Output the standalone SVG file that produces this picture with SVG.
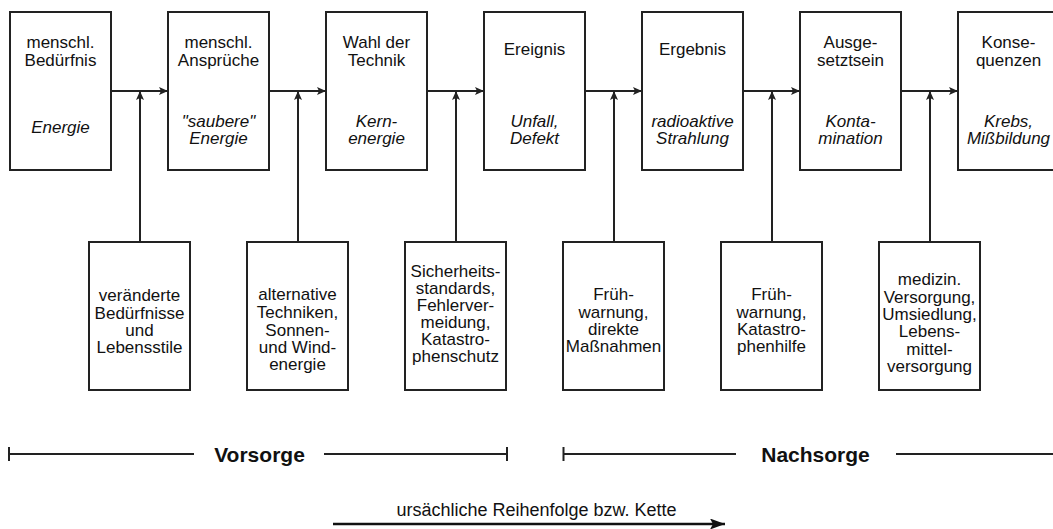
<svg xmlns="http://www.w3.org/2000/svg" width="1053" height="529" viewBox="0 0 1053 529">
<defs>
<style>
.box{fill:#fff;stroke:#222;stroke-width:2}
.t{font-family:"Liberation Sans",Arial,sans-serif;font-size:17px;fill:#111;text-anchor:middle}
.i{font-style:italic}
.b{font-family:"Liberation Sans",Arial,sans-serif;font-size:21px;font-weight:bold;fill:#111;text-anchor:middle}
.cap{font-size:18px}
.c{stroke:#222;stroke-width:2;fill:none}
</style>
<marker id="ah" markerUnits="userSpaceOnUse" markerWidth="10" markerHeight="9" refX="9" refY="4" orient="auto">
<path d="M0,0 L9,4 L0,8 L2,4 Z" fill="#222"/>
</marker>
<marker id="ah2" markerUnits="userSpaceOnUse" markerWidth="16" markerHeight="12" refX="15" refY="5.5" orient="auto">
<path d="M0,0 L15,5.5 L0,11 L3,5.5 Z" fill="#111"/>
</marker>
</defs>
<rect width="1053" height="529" fill="#fff"/>

<g id="connectors">
<path class="c" d="M111,91 H168" marker-end="url(#ah)"/>
<path class="c" d="M269,91 H326" marker-end="url(#ah)"/>
<path class="c" d="M427,91 H484" marker-end="url(#ah)"/>
<path class="c" d="M585,91 H642" marker-end="url(#ah)"/>
<path class="c" d="M743,91 H800" marker-end="url(#ah)"/>
<path class="c" d="M901,91 H958" marker-end="url(#ah)"/>
<path class="c" d="M140,242 V91" marker-end="url(#ah)"/>
<path class="c" d="M298,242 V91" marker-end="url(#ah)"/>
<path class="c" d="M456,242 V91" marker-end="url(#ah)"/>
<path class="c" d="M614,242 V91" marker-end="url(#ah)"/>
<path class="c" d="M772,242 V91" marker-end="url(#ah)"/>
<path class="c" d="M930,242 V91" marker-end="url(#ah)"/>
</g>

<g id="n1"><rect class="box" x="10" y="12" width="101" height="158"/>
<text class="t" x="60.5" y="48">menschl.</text><text class="t" x="60.5" y="66">Bedürfnis</text>
<text class="t i" x="60.5" y="133">Energie</text></g>
<g id="n2"><rect class="box" x="168" y="12" width="101" height="158"/>
<text class="t" x="218.5" y="48">menschl.</text><text class="t" x="218.5" y="66">Ansprüche</text>
<text class="t i" x="218.5" y="127">"saubere"</text><text class="t i" x="218.5" y="144">Energie</text></g>
<g id="n3"><rect class="box" x="326" y="12" width="101" height="158"/>
<text class="t" x="376.5" y="48">Wahl der</text><text class="t" x="376.5" y="66">Technik</text>
<text class="t i" x="376.5" y="127">Kern-</text><text class="t i" x="376.5" y="144">energie</text></g>
<g id="n4"><rect class="box" x="484" y="12" width="101" height="158"/>
<text class="t" x="534.5" y="55">Ereignis</text>
<text class="t i" x="534.5" y="127">Unfall,</text><text class="t i" x="534.5" y="144">Defekt</text></g>
<g id="n5"><rect class="box" x="642" y="12" width="101" height="158"/>
<text class="t" x="692.5" y="55">Ergebnis</text>
<text class="t i" x="692.5" y="127">radioaktive</text><text class="t i" x="692.5" y="144">Strahlung</text></g>
<g id="n6"><rect class="box" x="800" y="12" width="101" height="158"/>
<text class="t" x="850.5" y="48">Ausge-</text><text class="t" x="850.5" y="66">setztsein</text>
<text class="t i" x="850.5" y="127">Konta-</text><text class="t i" x="850.5" y="144">mination</text></g>
<g id="n7"><rect class="box" x="958" y="12" width="101" height="158"/>
<text class="t" x="1008.5" y="48">Konse-</text><text class="t" x="1008.5" y="66">quenzen</text>
<text class="t i" x="1008.5" y="127">Krebs,</text><text class="t i" x="1008.5" y="144">Mißbildung</text></g>

<g id="m1"><rect class="box" x="89" y="242" width="101" height="148"/>
<text class="t" x="139.5" y="301">veränderte</text><text class="t" x="139.5" y="318.5">Bedürfnisse</text><text class="t" x="139.5" y="336">und</text><text class="t" x="139.5" y="353">Lebensstile</text></g>
<g id="m2"><rect class="box" x="247" y="242" width="101" height="148"/>
<text class="t" x="297.5" y="300">alternative</text><text class="t" x="297.5" y="318">Techniken,</text><text class="t" x="297.5" y="335.5">Sonnen-</text><text class="t" x="297.5" y="353">und Wind-</text><text class="t" x="297.5" y="370">energie</text></g>
<g id="m3"><rect class="box" x="405" y="242" width="101" height="148"/>
<text class="t" x="455.5" y="277">Sicherheits-</text><text class="t" x="455.5" y="294">standards,</text><text class="t" x="455.5" y="311">Fehlerver-</text><text class="t" x="455.5" y="328">meidung,</text><text class="t" x="455.5" y="345">Katastro-</text><text class="t" x="455.5" y="362">phenschutz</text></g>
<g id="m4"><rect class="box" x="563" y="242" width="101" height="148"/>
<text class="t" x="613.5" y="300">Früh-</text><text class="t" x="613.5" y="317.5">warnung,</text><text class="t" x="613.5" y="335">direkte</text><text class="t" x="613.5" y="352">Maßnahmen</text></g>
<g id="m5"><rect class="box" x="721" y="242" width="101" height="148"/>
<text class="t" x="771.5" y="300">Früh-</text><text class="t" x="771.5" y="317.5">warnung,</text><text class="t" x="771.5" y="335">Katastro-</text><text class="t" x="771.5" y="352">phenhilfe</text></g>
<g id="m6"><rect class="box" x="879" y="242" width="101" height="148"/>
<text class="t" x="929.5" y="285">medizin.</text><text class="t" x="929.5" y="302.5">Versorgung,</text><text class="t" x="929.5" y="320">Umsiedlung,</text><text class="t" x="929.5" y="337">Lebens-</text><text class="t" x="929.5" y="354.5">mittel-</text><text class="t" x="929.5" y="372">versorgung</text></g>

<g id="vorsorge">
<path class="c" d="M9,447 V461 M9,454 H194 M324,454 H507 M507,447 V461"/>
<text class="b" x="259.5" y="462">Vorsorge</text>
</g>
<g id="nachsorge">
<path class="c" d="M563.5,447 V461 M563.5,454 H736 M896,454 H1053"/>
<text class="b" x="815.5" y="462">Nachsorge</text>
</g>
<g id="legend">
<path d="M333,524 H725" stroke="#111" stroke-width="2.5" fill="none" marker-end="url(#ah2)"/>
<text class="t cap" x="536.5" y="516">ursächliche Reihenfolge bzw. Kette</text>
</g>
</svg>
